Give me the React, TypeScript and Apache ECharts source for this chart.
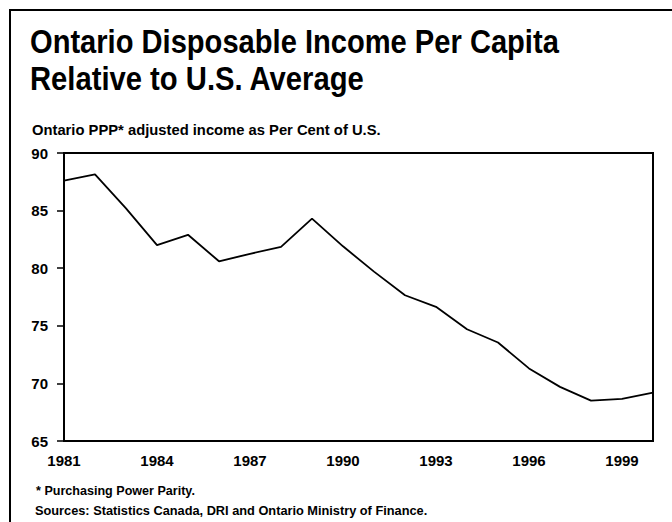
import React, { useEffect, useRef } from "react";
import * as echarts from "echarts";

const years: string[] = [
  "1981", "1982", "1983", "1984", "1985", "1986", "1987", "1988", "1989", "1990",
  "1991", "1992", "1993", "1994", "1995", "1996", "1997", "1998", "1999", "2000",
];
const ontarioPct: number[] = [
  87.6, 88.15, 85.2, 82.0, 82.9, 80.6, 81.25, 81.85, 84.3, 81.9,
  79.7, 77.65, 76.65, 74.7, 73.55, 71.3, 69.7, 68.5, 68.65, 69.2,
];
const yTicks = { min: 65, max: 90, step: 5 };
const titleLines: string[] = [
  "Ontario Disposable Income Per Capita",
  "Relative to U.S. Average",
];
const subtitle = "Ontario PPP* adjusted income as Per Cent of U.S.";
const footnotes: string[] = [
  "* Purchasing Power Parity.",
  "Sources: Statistics Canada, DRI and Ontario Ministry of Finance.",
];

const FONT = "'Liberation Sans', Arial, sans-serif";

function measure(text: string, size: number): number {
  const c = document.createElement("canvas");
  const ctx = c.getContext("2d");
  if (!ctx) return text.length * size * 0.55;
  ctx.font = `bold ${size}px ${FONT}`;
  return ctx.measureText(text).width;
}

export default function App() {
  const ref = useRef<HTMLDivElement>(null);
  useEffect(() => {
    if (!ref.current) return;
    const chart = echarts.init(ref.current, undefined, { renderer: "svg" });

    // text item: left x, middle y, font size, target rendered width
    const fitText = (text: string, x: number, y: number, size: number, targetW: number) => {
      const w = measure(text, size);
      const sx = w > 0 ? targetW / w : 1;
      return {
        type: "text",
        x,
        y,
        scaleX: sx,
        silent: true,
        style: {
          text,
          fontFamily: FONT,
          fontWeight: "bold",
          fontSize: size,
          fill: "#000",
          align: "left",
          verticalAlign: "middle",
        },
      };
    };

    chart.setOption({
      animation: false,
      backgroundColor: "#fff",
      graphic: [
        {
          type: "rect",
          shape: { x: 10, y: 10, width: 720, height: 600 },
          style: { fill: "none", stroke: "#000", lineWidth: 2 },
          silent: true,
        },
        fitText(titleLines[0], 30, 41.6, 33, 529),
        fitText(titleLines[1], 30, 78.6, 33, 335),
        fitText(subtitle, 32, 130.2, 14, 349),
        fitText(footnotes[0], 36, 490.4, 13.5, 159),
        fitText(footnotes[1], 35, 510.3, 13.5, 393),
      ],
      grid: {
        left: 64,
        top: 153,
        right: 19,
        bottom: 81,
        show: true,
        borderColor: "#000",
        borderWidth: 2,
        containLabel: false,
      },
      xAxis: {
        type: "category",
        data: years,
        boundaryGap: false,
        axisLine: { show: true, lineStyle: { color: "#000", width: 2 } },
        axisTick: { show: false },
        splitLine: { show: false },
        axisLabel: {
          interval: 2,
          margin: 12,
          color: "#000",
          fontFamily: FONT,
          fontWeight: "bold",
          fontSize: 15,
        },
      },
      yAxis: {
        type: "value",
        min: yTicks.min,
        max: yTicks.max,
        interval: yTicks.step,
        axisLine: { show: true, lineStyle: { color: "#000", width: 2 } },
        axisTick: { show: true, inside: false, length: 7, lineStyle: { color: "#000", width: 1.5 } },
        splitLine: { show: false },
        axisLabel: {
          margin: 16,
          color: "#000",
          fontFamily: FONT,
          fontWeight: "bold",
          fontSize: 15,
        },
      },
      series: [
        {
          type: "line",
          data: ontarioPct,
          showSymbol: false,
          symbol: "none",
          lineStyle: { color: "#000", width: 1.8 },
        },
      ],
    });
    return () => chart.dispose();
  }, []);
  return (
    <div
      ref={ref}
      style={{ position: "absolute", left: 0, top: 0, width: 672, height: 522 }}
    />
  );
}
